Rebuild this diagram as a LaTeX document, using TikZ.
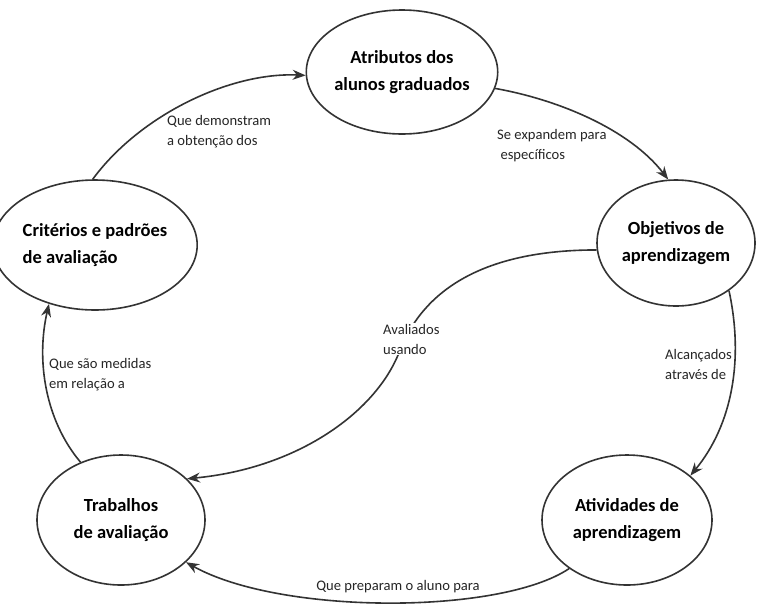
\documentclass[tikz,border=0pt]{standalone}
\usepackage{fontspec}
\setmainfont{Carlito}
\usetikzlibrary{arrows.meta,shapes.geometric}
\begin{document}
\begin{tikzpicture}[x=1pt,y=-1pt,
  oval/.style={ellipse,draw=black!80,line width=1.6pt,inner sep=0pt,
    font=\fontsize{18.5}{26.5}\selectfont\bfseries,align=center},
  lbl/.style={font=\fontsize{14.6}{20}\selectfont,text=black!85,align=left,inner sep=1pt},
  conn/.style={draw=black!80,line width=1.6pt,-{Stealth[length=13pt,width=10pt]}}]
\useasboundingbox (0,0) rectangle (759,606);
\fill[white] (0,0) rectangle (759,606);
\node[oval,minimum width=170pt,minimum height=124pt] (atr) at (402,72) {Atributos dos\\alunos graduados};
\node[oval,minimum width=166pt,minimum height=130pt,align=left] (crit) at (95,245) {Critérios e padrões\\de avaliação};
\node[oval,minimum width=158pt,minimum height=126pt] (obj) at (676,243) {Objetivos de\\aprendizagem};
\node[oval,minimum width=168pt,minimum height=130pt] (tra) at (121,520) {Trabalhos\\de avaliação};
\node[oval,minimum width=170pt,minimum height=130pt] (atv) at (627,520) {Atividades de\\aprendizagem};

\draw[conn] (crit.92) .. controls (140,115) and (230,72) .. (atr.182);
\draw[conn] (atr.-10) .. controls (560,100) and (630,130) .. (obj.97);
\draw[conn] (obj.-42) .. controls (744,360) and (732,425) .. (atv.35);
\draw[conn] (atv.220) .. controls (500,615) and (280,615) .. (tra.-33);
\draw[conn] (tra.125) .. controls (45,420) and (36,360) .. (crit.232);
\draw[conn] (obj.185) .. controls (470,250) and (420,300) .. (400,350)
   .. controls (378,410) and (300,468) .. (tra.32);

\node[lbl,anchor=west] (l1) at (166,132) {Que demonstram\\a obtenção dos};
\node[lbl,anchor=west] (l2) at (496,146) {Se expandem para\\\ específicos};
\node[lbl,anchor=west] (l3) at (664,364) {Alcançados\\através de};
\node[lbl,anchor=west,fill=white] (l4) at (382,339) {Avaliados\\usando};
\node[lbl,anchor=west] (l5) at (48,375) {Que são medidas\\em relação a};
\node[lbl] (l6) at (398,587) {Que preparam o aluno para};
\end{tikzpicture}
\end{document}
